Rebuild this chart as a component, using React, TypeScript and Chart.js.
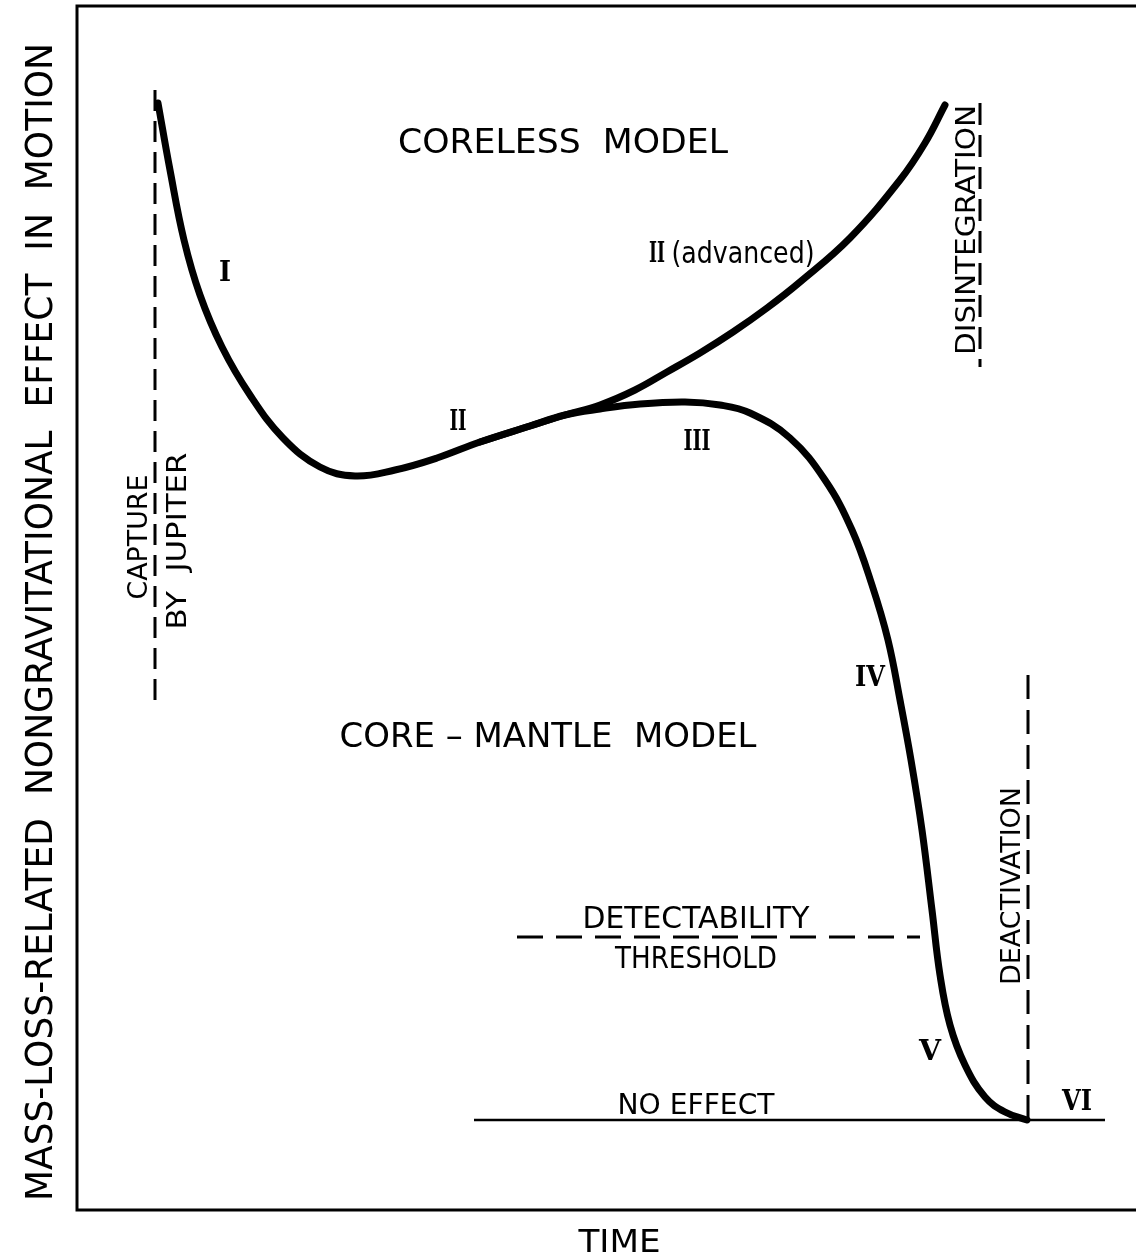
import React, { useEffect, useRef } from "react";
import { Chart, registerables } from "chart.js";

Chart.register(...registerables);

// ---- Data (arbitrary units: time along x, nongravitational effect along y) ----
// Core-mantle model path: phases I -> II -> III -> IV -> V -> VI
const coreTime = [81, 93, 107, 123, 145, 173, 206, 243, 278, 318, 360, 403, 453, 488, 523, 563, 608, 643, 673, 713, 748, 775, 795, 811, 823, 834, 845, 855, 863, 873, 888, 908, 928, 950];
const coreEffect = [1107, 1040, 970, 915, 863, 815, 772, 743, 734, 740, 752, 768, 784, 795, 801, 806, 808, 805, 797, 772, 730, 680, 625, 570, 510, 450, 380, 300, 235, 185, 145, 113, 98, 90];

// Coreless model: II (advanced) branch to disintegration
const corelessTime = [403, 453, 488, 523, 558, 590, 623, 656, 690, 723, 773, 823, 848, 868];
const corelessEffect = [768, 784, 795, 805, 820, 838, 857, 878, 902, 928, 972, 1030, 1067, 1105];

// Reference lines
const captureTime = [78, 78];
const captureEffect = [1120, 510];
const disintegrationTime = [903, 903];
const disintegrationEffect = [1107, 843];
const deactivationTime = [951, 951];
const deactivationEffect = [535, 90];
const thresholdTime = [440, 843];
const thresholdEffect = [273, 273];
const noEffectTime = [397, 1028];
const noEffectEffect = [90, 90];

const X_MAX = 1059;
const Y_MAX = 1204;

// Labels: text, position in data units, width along text, cap height, rotation, serif
const labels = [
  { t: "CORELESS  MODEL", x: 486, y: 1070, w: 330, h: 25, r: 0, serif: false },
  { t: "CORE – MANTLE  MODEL", x: 471, y: 476, w: 417, h: 25, r: 0, serif: false },
  { t: "DETECTABILITY", x: 619, y: 293, w: 227, h: 22, r: 0, serif: false },
  { t: "THRESHOLD", x: 619, y: 253, w: 162, h: 22, r: 0, serif: false },
  { t: "NO EFFECT", x: 619, y: 107, w: 157, h: 21, r: 0, serif: false },
  { t: "(advanced)", x: 666, y: 958, w: 143, h: 22, r: 0, serif: false },
  { t: "CAPTURE", x: 60, y: 673, w: 125, h: 20, r: -90, serif: false },
  { t: "BY  JUPITER", x: 99, y: 669, w: 177, h: 20, r: -90, serif: false },
  { t: "DISINTEGRATION", x: 888, y: 980, w: 250, h: 19, r: -90, serif: false },
  { t: "DEACTIVATION", x: 933, y: 324, w: 198, h: 19, r: -90, serif: false },
  { t: "I", x: 148, y: 939, w: 12, h: 20, r: 0, serif: true },
  { t: "II", x: 381, y: 790, w: 17, h: 20, r: 0, serif: true },
  { t: "II", x: 580, y: 958, w: 16, h: 20, r: 0, serif: true },
  { t: "III", x: 620, y: 770, w: 27, h: 20, r: 0, serif: true },
  { t: "IV", x: 793, y: 534, w: 30, h: 20, r: 0, serif: true },
  { t: "V", x: 853, y: 160, w: 22, h: 20, r: 0, serif: true },
  { t: "VI", x: 1000, y: 110, w: 30, h: 20, r: 0, serif: true },
];

const Y_TITLE = "MASS-LOSS-RELATED  NONGRAVITATIONAL  EFFECT  IN  MOTION";
const X_TITLE = "TIME";

const SANS = '"DejaVu Sans", "Liberation Sans", sans-serif';
const SERIF = '"DejaVu Serif", "Liberation Serif", serif';

function pts(xs: number[], ys: number[]) {
  return xs.map((x, i) => ({ x, y: ys[i] }));
}

function drawFit(
  ctx: CanvasRenderingContext2D,
  text: string,
  cx: number,
  cy: number,
  width: number,
  cap: number,
  rotDeg: number,
  family: string,
  weight: string
) {
  const size = cap / 0.73;
  ctx.save();
  ctx.font = `${weight} ${size}px ${family}`;
  const w = ctx.measureText(text).width;
  ctx.translate(cx, cy);
  ctx.rotate((rotDeg * Math.PI) / 180);
  ctx.scale(width / w, 1);
  ctx.textAlign = "center";
  ctx.textBaseline = "alphabetic";
  ctx.fillStyle = "#000";
  ctx.fillText(text, 0, cap / 2);
  ctx.restore();
}

const decorPlugin = {
  id: "decor",
  afterDatasetsDraw(chart: any) {
    const ctx: CanvasRenderingContext2D = chart.ctx;
    const { left, top, bottom, right } = chart.chartArea;
    const xs = chart.scales.x;
    const ys = chart.scales.y;
    // frame
    ctx.save();
    ctx.strokeStyle = "#000";
    ctx.lineWidth = 3;
    ctx.beginPath();
    ctx.moveTo(right + 5, top);
    ctx.lineTo(left, top);
    ctx.lineTo(left, bottom);
    ctx.lineTo(right + 5, bottom);
    ctx.stroke();
    ctx.restore();

    for (const l of labels) {
      drawFit(
        ctx,
        l.t,
        xs.getPixelForValue(l.x),
        ys.getPixelForValue(l.y),
        l.w,
        l.h,
        l.r,
        l.serif ? SERIF : SANS,
        l.serif ? "bold" : "normal"
      );
    }
    // axis titles
    drawFit(ctx, Y_TITLE, left - 39, (top + bottom) / 2 + 14, 1158, 27, -90, SANS, "normal");
    drawFit(ctx, X_TITLE, (left + right) / 2 + 13, bottom + 30, 82, 23, 0, SANS, "normal");
  },
};

export default function App() {
  const ref = useRef<HTMLCanvasElement | null>(null);
  useEffect(() => {
    if (!ref.current) return;
    const dashed = (xs: number[], ys: number[], dash: number[]) => ({
      data: pts(xs, ys),
      borderColor: "#000",
      borderWidth: 3,
      borderDash: dash,
      pointRadius: 0,
      tension: 0,
      fill: false,
    });
    const curve = (label: string, xs: number[], ys: number[]) => ({
      label,
      data: pts(xs, ys),
      borderColor: "#000",
      borderWidth: 7,
      pointRadius: 0,
      tension: 0.4,
      borderCapStyle: "round",
      borderJoinStyle: "round",
      fill: false,
    });
    const chart = new Chart(ref.current, {
      type: "line",
      data: {
        datasets: [
          curve("Core-mantle model", coreTime, coreEffect),
          curve("Coreless model", corelessTime, corelessEffect),
          { label: "Capture", ...dashed(captureTime, captureEffect, [21, 10]) },
          { label: "Disintegration", ...dashed(disintegrationTime, disintegrationEffect, [22, 10]) },
          { label: "Deactivation", ...dashed(deactivationTime, deactivationEffect, [24, 11]) },
          { label: "Threshold", ...dashed(thresholdTime, thresholdEffect, [26, 13]) },
          {
            label: "No effect",
            data: pts(noEffectTime, noEffectEffect),
            borderColor: "#000",
            borderWidth: 2.5,
            pointRadius: 0,
            tension: 0,
            fill: false,
          },
        ] as any,
      },
      options: {
        responsive: false,
        animation: false,
        devicePixelRatio: 1,
        layout: { padding: { left: 77, top: 6, right: 0, bottom: 46 } },
        plugins: { legend: { display: false }, tooltip: { enabled: false }, title: { display: false } },
        scales: {
          x: { type: "linear", min: 0, max: X_MAX, display: false },
          y: { type: "linear", min: 0, max: Y_MAX, display: false },
        },
        elements: { line: { capBezierPoints: false } },
      } as any,
      plugins: [decorPlugin],
    });
    return () => chart.destroy();
  }, []);
  return (
    <canvas
      ref={ref}
      width={1136}
      height={1256}
      style={{ position: "absolute", left: 0, top: 0, width: 1136, height: 1256, background: "#fff" }}
    />
  );
}
